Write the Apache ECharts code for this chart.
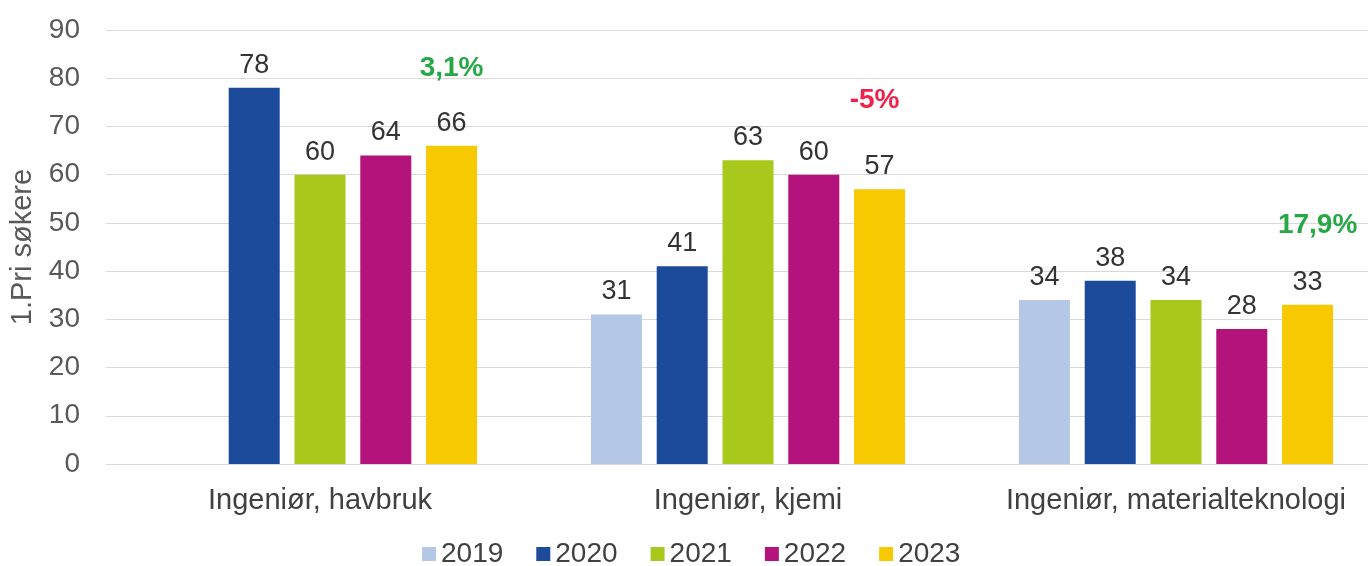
<!DOCTYPE html>
<html>
<head>
<meta charset="utf-8">
<script src="https://cdn.jsdelivr.net/npm/echarts@6/dist/echarts.min.js"></script>
<style>html,body{margin:0;padding:0;background:#fff;overflow:hidden;width:1368px;height:566px;}#c{width:1390px;height:566px;}</style>
</head>
<body>
<div id="c"></div>
<script>
const categories = ['Ingeniør, havbruk', 'Ingeniør, kjemi', 'Ingeniør, materialteknologi'];
const years = ['2019', '2020', '2021', '2022', '2023'];
const v2019 = ['-', 31, 34];
const v2020 = [78, 41, 38];
const v2021 = [60, 63, 34];
const v2022 = [64, 60, 28];
const v2023 = [66, 57, 33];
const changeLabels = ['3,1%', '-5%', '17,9%'];
const changeLevels = [82, 75.5, 49.6];
const changeColors = ['#27a846', '#f0224a', '#27a846'];
const colors = ['#b4c7e7', '#1c4b9c', '#a8c81c', '#b3137a', '#f6c900'];

const font = 'Liberation Sans, Arial, sans-serif';
const labelShift = [0, -5, 10];
const seriesValues = [v2019, v2020, v2021, v2022, v2023];
const series = years.map((y, i) => {
  const s = {
    name: y,
    type: 'bar',
    data: seriesValues[i],
    itemStyle: { color: colors[i] },
    barWidth: 51,
    barGap: '29%',
    label: { show: true, position: 'top', distance: 9, color: '#333', fontSize: 27, fontFamily: font },
    animation: false
  };
  if (i === 4) {
    s.markPoint = {
      symbol: 'circle', symbolSize: 0,
      data: categories.map((c, k) => ({
        coord: [c, changeLevels[k]],
        value: changeLabels[k],
        label: { show: true, position: 'inside', offset: [labelShift[k], 0], formatter: changeLabels[k], color: changeColors[k], fontSize: 28, fontWeight: 'bold', fontFamily: font }
      })),
      animation: false
    };
  }
  return s;
});

const chart = echarts.init(document.getElementById('c'));
chart.setOption({
  animation: false,
  backgroundColor: '#fff',
  textStyle: { fontFamily: font },
  grid: { left: 106, right: 0, top: 30, bottom: 102, containLabel: false },
  legend: {
    data: years, top: 535, left: 417, itemWidth: 14, itemHeight: 14, itemGap: 33, icon: 'rect',
    textStyle: { fontSize: 28, color: '#404040', fontFamily: font }
  },
  xAxis: {
    type: 'category', data: categories,
    axisLine: { show: true, lineStyle: { color: '#d9d9d9' } },
    axisTick: { show: false },
    axisLabel: { interval: 0, fontSize: 29, color: '#404040', margin: 22, fontFamily: font }
  },
  yAxis: {
    type: 'value', min: 0, max: 90, interval: 10,
    name: '1.Pri søkere', nameLocation: 'middle', nameRotate: 90, nameGap: 67,
    nameTextStyle: { fontSize: 29, color: '#595959', fontFamily: font },
    axisLine: { show: false }, axisTick: { show: false },
    axisLabel: { fontSize: 28, color: '#595959', margin: 26, fontFamily: font },
    splitLine: { lineStyle: { color: '#d9d9d9', width: 1 } }
  },
  series: series
});
</script>
</body>
</html>
